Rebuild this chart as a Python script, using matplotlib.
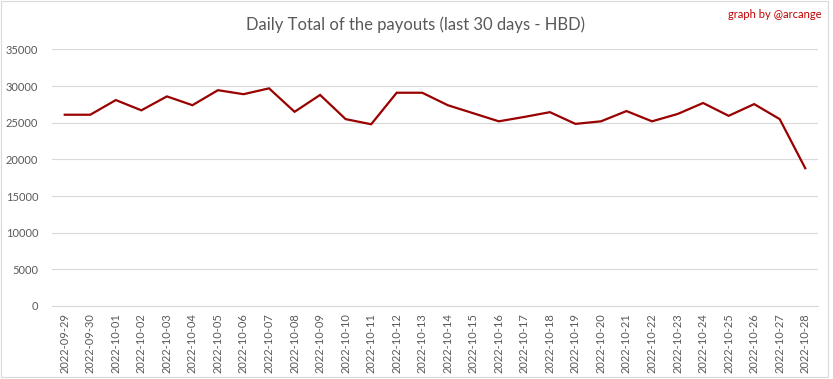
import matplotlib
matplotlib.use("Agg")
import matplotlib.pyplot as plt
from matplotlib.patches import Rectangle

# daily payout totals (HBD)
dates = ["2022-09-29", "2022-09-30", "2022-10-01", "2022-10-02", "2022-10-03",
         "2022-10-04", "2022-10-05", "2022-10-06", "2022-10-07", "2022-10-08",
         "2022-10-09", "2022-10-10", "2022-10-11", "2022-10-12", "2022-10-13",
         "2022-10-14", "2022-10-15", "2022-10-16", "2022-10-17", "2022-10-18",
         "2022-10-19", "2022-10-20", "2022-10-21", "2022-10-22", "2022-10-23",
         "2022-10-24", "2022-10-25", "2022-10-26", "2022-10-27", "2022-10-28"]
payouts = [26100, 26100, 28100, 26700, 28600, 27400, 29450, 28900, 29700, 26500,
           28800, 25500, 24800, 29100, 29100, 27400, 26300, 25200, 25800, 26450,
           24850, 25200, 26600, 25200, 26200, 27700, 25950, 27550, 25500, 18800]
yticks = [0, 5000, 10000, 15000, 20000, 25000, 30000, 35000]

plt.rcParams['font.family'] = ['Lato', 'DejaVu Sans']

fig = plt.figure(figsize=(8.33, 3.79), dpi=100)
ax = fig.add_axes([52/833, 1-306/379, 766/833, 256.5/379])

x = list(range(len(dates)))
ax.plot(x, payouts, color='#990000', linewidth=1.6, solid_joinstyle='miter')

ax.set_xlim(-0.5, len(dates) - 0.5)
ax.set_ylim(0, 35000)
ax.set_yticks(yticks)
ax.set_yticklabels([str(v) for v in yticks])
ax.set_xticks(x)
ax.set_xticklabels(dates, rotation=90)
ax.tick_params(axis='both', length=0, labelsize=8, labelcolor='#595959')
ax.tick_params(axis='y', pad=10)
ax.tick_params(axis='x', pad=5)
ax.grid(axis='y', color='#d9d9d9', linewidth=0.8)
ax.set_axisbelow(True)
for side in ['top', 'right', 'left']:
    ax.spines[side].set_visible(False)
ax.spines['bottom'].set_color('#d9d9d9')
ax.spines['bottom'].set_linewidth(0.8)

fig.text(415/833, 1-25/379, "Daily Total of the payouts (last 30 days - HBD)",
         ha='center', va='center', fontsize=12, color='#595959')
fig.text(822/833, 1-15/379, "graph by @arcange", ha='right', va='center',
         fontsize=8, color='#c00000')

# light frame round the whole chart
fig.patches.append(Rectangle((1/833, 2/379), 827/833, 376/379, transform=fig.transFigure,
                             fill=False, edgecolor='#d9d9d9', linewidth=0.8))

fig.savefig("out.png", dpi=100)
